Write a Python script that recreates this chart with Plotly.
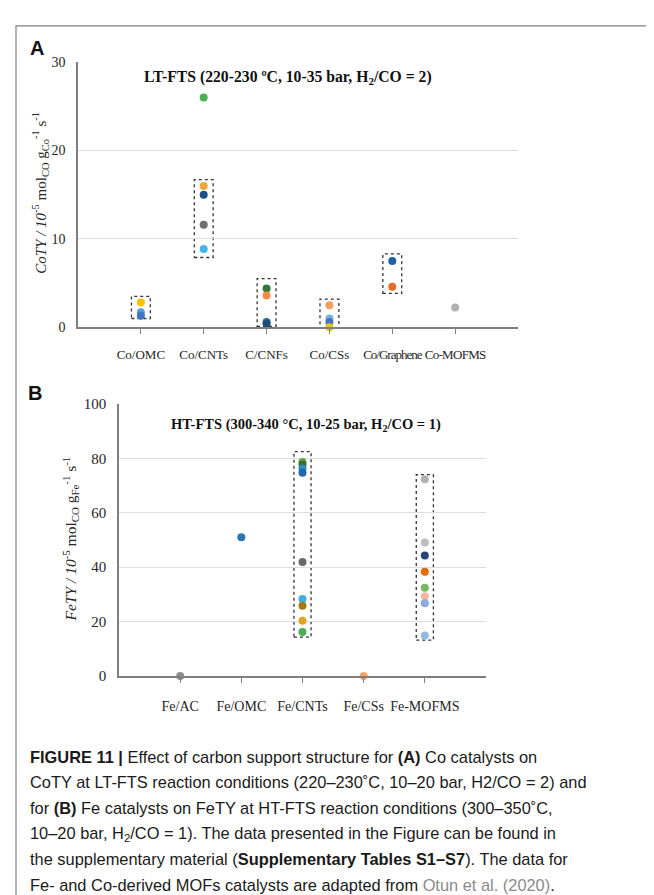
import plotly.graph_objects as go

# ---------------- DATA ----------------
# Panel A: CoTY (10^-5 mol_CO g_Co^-1 s^-1)
cats_a = ["Co/OMC", "Co/CNTs", "C/CNFs", "Co/CSs", "Co/Graphene", "Co-MOFMS"]
pts_a_cat = ["Co/OMC", "Co/OMC", "Co/OMC",
             "Co/CNTs", "Co/CNTs", "Co/CNTs", "Co/CNTs", "Co/CNTs",
             "C/CNFs", "C/CNFs", "C/CNFs", "C/CNFs",
             "Co/CSs", "Co/CSs", "Co/CSs", "Co/CSs",
             "Co/Graphene", "Co/Graphene",
             "Co-MOFMS"]
pts_a_val = [2.8, 1.7, 1.3,
             26.0, 16.0, 15.0, 11.6, 8.85,
             4.4, 3.6, 0.6, 0.4,
             2.5, 1.0, 0.6, 0.0,
             7.5, 4.6,
             2.25]
box_a_cat = ["Co/OMC", "Co/CNTs", "C/CNFs", "Co/CSs", "Co/Graphene"]
box_a_lo = [1.0, 7.9, 0.1, -0.2, 3.85]
box_a_hi = [3.5, 16.7, 5.5, 3.2, 8.3]
yticks_a = [0, 10, 20, 30]

# Panel B: FeTY (10^-5 mol_CO g_Fe^-1 s^-1)
cats_b = ["Fe/AC", "Fe/OMC", "Fe/CNTs", "Fe/CSs", "Fe-MOFMS"]
pts_b_cat = ["Fe/AC",
             "Fe/OMC",
             "Fe/CNTs", "Fe/CNTs", "Fe/CNTs", "Fe/CNTs", "Fe/CNTs",
             "Fe/CNTs", "Fe/CNTs", "Fe/CNTs", "Fe/CNTs",
             "Fe/CSs",
             "Fe-MOFMS", "Fe-MOFMS", "Fe-MOFMS", "Fe-MOFMS",
             "Fe-MOFMS", "Fe-MOFMS", "Fe-MOFMS", "Fe-MOFMS"]
pts_b_val = [0.0,
             51.0,
             78.7, 77.7, 76.3, 74.7, 41.9,
             28.3, 25.8, 20.3, 16.2,
             0.0,
             72.3, 49.1, 44.3, 38.3,
             32.4, 29.3, 26.7, 14.9]
box_b_cat = ["Fe/CNTs", "Fe-MOFMS"]
box_b_lo = [14.3, 13.2]
box_b_hi = [82.5, 74.0]
yticks_b = [0, 20, 40, 60, 80, 100]

# ---------------- STYLE ----------------
col_a = ["#FFC000", "#5B9BD5", "#4472C4",
         "#4CB050", "#EDA43A", "#1F4E8C", "#707070", "#45B4E8",
         "#2F7A3A", "#F2894A", "#2B6A8A", "#1F4E79",
         "#F4A05A", "#7CAFDD", "#4472C4", "#E6C619",
         "#1F5FA6", "#E46C29",
         "#B0B0B0"]
col_b = ["#8C8C8C",
         "#2E75B6",
         "#5FA84A", "#43682B", "#2A8CC0", "#2266B0", "#6A6A6A",
         "#3BAEE6", "#A07C10", "#E0A526", "#4CAF50",
         "#F4A460",
         "#B0B0B0", "#BDBDBD", "#264478", "#E46C0A",
         "#77B860", "#F2B8A2", "#8EA9DB", "#8FB9E0"]

W, H = 654, 895
SERIF = "Liberation Serif, Times New Roman, serif"
AXC = "#7F7F7F"
GRID = "#DDDDDD"
TXT = "#262626"

def px(x):
    return x / W

def py(y):
    return (H - y) / H

# tick text for panel A (long labels are set slightly condensed, as in the source)
tight = {"Co/Graphene": "-1.0px", "Co-MOFMS": "-0.7px"}
ticktext_a = [("<span style='letter-spacing:%s'>%s</span>" % (tight[c], c)) if c in tight else c
              for c in cats_a]

fig = go.Figure()

fig.add_trace(go.Scatter(
    x=pts_a_cat, y=pts_a_val, mode="markers", xaxis="x", yaxis="y",
    marker=dict(size=8, color=col_a), cliponaxis=False, showlegend=False))
fig.add_trace(go.Scatter(
    x=pts_b_cat, y=pts_b_val, mode="markers", xaxis="x2", yaxis="y2",
    marker=dict(size=8, color=col_b), cliponaxis=False, showlegend=False))

shapes = []
for c, lo, hi in zip(box_a_cat, box_a_lo, box_a_hi):
    i = cats_a.index(c)
    shapes.append(dict(type="rect", xref="x", yref="y", x0=i - 0.15, x1=i + 0.15,
                       y0=lo, y1=hi, line=dict(color="#333333", width=1.3, dash="dot"),
                       layer="below"))
for c, lo, hi in zip(box_b_cat, box_b_lo, box_b_hi):
    i = cats_b.index(c)
    shapes.append(dict(type="rect", xref="x2", yref="y2", x0=i - 0.14, x1=i + 0.14,
                       y0=lo, y1=hi, line=dict(color="#333333", width=1.3, dash="dot"),
                       layer="below"))
# outer frame
shapes.append(dict(type="rect", xref="paper", yref="paper", x0=px(8), x1=px(646),
                   y0=-0.02, y1=py(10), line=dict(color="#808080", width=1.2)))

annotations = [
    dict(text="<b>A</b>", x=px(20), y=py(33), xref="paper", yref="paper",
         xanchor="left", yanchor="middle", showarrow=False,
         font=dict(family="Liberation Sans, Arial, sans-serif", size=20, color="#111111")),
    dict(text="<b>B</b>", x=px(18), y=py(384), xref="paper", yref="paper",
         xanchor="left", yanchor="middle", showarrow=False,
         font=dict(family="Liberation Sans, Arial, sans-serif", size=20, color="#111111")),
    dict(text="<b>LT-FTS (220-230 ºC, 10-35 bar, H<sub>2</sub>/CO = 2)</b>",
         x=px(280), y=py(63), xref="paper", yref="paper", showarrow=False,
         xanchor="center", yanchor="middle",
         font=dict(family=SERIF, size=15.7, color="#111111")),
    dict(text="<b>HT-FTS (300-340 °C, 10-25 bar, H<sub>2</sub>/CO = 1)</b>",
         x=px(298), y=py(416), xref="paper", yref="paper", showarrow=False,
         xanchor="center", yanchor="middle",
         font=dict(family=SERIF, size=14.5, color="#111111")),
    dict(text="<i>CoTY / 10</i><sup>-5</sup> mol<sub>CO</sub> g<sub>Co</sub><sup>-1</sup> s<sup>-1</sup>",
         x=px(32), y=py(180), xref="paper", yref="paper", showarrow=False,
         textangle=-90, xanchor="center", yanchor="middle",
         font=dict(family=SERIF, size=15, color=TXT)),
    dict(text="<i>FeTY / 10</i><sup>-5</sup> mol<sub>CO</sub> g<sub>Fe</sub><sup>-1</sup> s<sup>-1</sup>",
         x=px(63), y=py(533), xref="paper", yref="paper", showarrow=False,
         textangle=-90, xanchor="center", yanchor="middle",
         font=dict(family=SERIF, size=15.5, color=TXT)),
]

CAP = "Liberation Sans, Arial, sans-serif"
cap_lines = [
    "<b>FIGURE 11 |</b> Effect of carbon support structure for <b>(A)</b> Co catalysts on",
    "CoTY at LT-FTS reaction conditions (220–230˚C, 10–20 bar, H2/CO = 2) and",
    "for <b>(B)</b> Fe catalysts on FeTY at HT-FTS reaction conditions (300–350˚C,",
    "10–20 bar, H<sub>2</sub>/CO = 1). The data presented in the Figure can be found in",
    "the supplementary material (<b>Supplementary Tables S1–S7</b>). The data for",
    "Fe- and Co-derived MOFs catalysts are adapted from <span style='color:#8A8A8A'>Otun et al. (2020)</span>.",
]
for k, line in enumerate(cap_lines):
    annotations.append(dict(text=line, x=px(20), y=py(754 + 26.2 * k), xref="paper", yref="paper",
                            xanchor="left", yanchor="middle", showarrow=False,
                            font=dict(family=CAP, size=16.4, color="#1A1A1A")))

fig.update_layout(
    width=W, height=H, margin=dict(l=0, r=0, t=0, b=0),
    paper_bgcolor="white", plot_bgcolor="white",
    shapes=shapes, annotations=annotations,
    xaxis=dict(domain=[px(70), px(510)], anchor="y", type="category",
               categoryorder="array", categoryarray=cats_a, range=[-1, 6],
               tickmode="array", tickvals=cats_a, ticktext=ticktext_a,
               showline=True, linecolor=AXC, linewidth=1.5,
               ticks="outside", ticklen=5, tickcolor=AXC, showgrid=False,
               tickangle=0, ticklabelstandoff=9,
               tickfont=dict(family=SERIF, size=13, color=TXT)),
    yaxis=dict(domain=[py(317), py(47)], anchor="x", range=[0, 30],
               tickvals=yticks_a, showline=True, linecolor=AXC, linewidth=1.5,
               showgrid=True, gridcolor=GRID, gridwidth=1, zeroline=False,
               ticks="", ticklabelstandoff=8,
               tickfont=dict(family=SERIF, size=14, color=TXT)),
    xaxis2=dict(domain=[px(111), px(478)], anchor="y2", type="category",
                categoryorder="array", categoryarray=cats_b, range=[-1, 5],
                showline=True, linecolor=AXC, linewidth=1.5,
                ticks="outside", ticklen=5, tickcolor=AXC, showgrid=False,
                tickangle=0, ticklabelstandoff=11,
                tickfont=dict(family=SERIF, size=14, color=TXT)),
    yaxis2=dict(domain=[py(672), py(395)], anchor="x2", range=[0, 100],
                tickvals=yticks_b, showline=True, linecolor=AXC, linewidth=1.5,
                showgrid=True, gridcolor=GRID, gridwidth=1, zeroline=False,
                ticks="", ticklabelstandoff=8,
                tickfont=dict(family=SERIF, size=15, color=TXT)),
)

fig.write_html("out.html")
